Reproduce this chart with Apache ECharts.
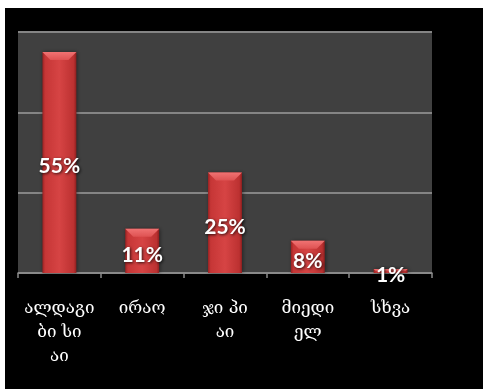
<!DOCTYPE html>
<html>
<head>
<meta charset="utf-8">
<script src="https://cdn.jsdelivr.net/npm/echarts@6/dist/echarts.min.js"></script>
<style>
  html, body { margin: 0; padding: 0; background: #ffffff; }
  #wrap { position: relative; width: 483px; height: 389px; background: #ffffff; overflow: hidden; }
  #chart { position: absolute; left: 5px; top: 8px; width: 478px; height: 381px; }
</style>
</head>
<body>
<div id="wrap"><div id="chart"></div></div>
<script>
// Market share by company, percent
const categories = ['ალდაგი\nბი სი\nაი', 'ირაო', 'ჯი პი\nაი', 'მიედი\nელ', 'სხვა'];
const shares = [55, 11, 25, 8, 1];
const axisMax = 60;
const axisStep = 20;

const chart = echarts.init(document.getElementById('chart'), null, { renderer: 'canvas' });

const bodyFill = new echarts.graphic.LinearGradient(0, 0, 1, 0, [
  { offset: 0, color: '#9a2222' },
  { offset: 0.08, color: '#c63636' },
  { offset: 0.5, color: '#d64444' },
  { offset: 0.92, color: '#bc3131' },
  { offset: 1, color: '#8e1f1f' }
]);
const bevelFill = new echarts.graphic.LinearGradient(0, 0, 0, 1, [
  { offset: 0, color: '#f07272' },
  { offset: 1, color: '#de5252' }
]);

function renderBar(params, api) {
  const idx = api.value(0);
  const v = api.value(1);
  const top = api.coord([idx, v]);
  const base = api.coord([idx, 0]);
  const w = api.size([1, 0])[0] * 0.41;
  const x = top[0] - w / 2;
  const h = base[1] - top[1];
  const bev = Math.min(8, h / 2);
  return {
    type: 'group',
    children: [
      {
        type: 'rect',
        shape: { x: x, y: top[1], width: w, height: h },
        style: { fill: bodyFill, shadowColor: 'rgba(0,0,0,0.45)', shadowBlur: 4, shadowOffsetX: 1 }
      },
      {
        type: 'polygon',
        shape: { points: [[x, top[1]], [x + w, top[1]], [x + w - bev, top[1] + bev], [x + bev, top[1] + bev]] },
        style: { fill: bevelFill }
      },
      {
        type: 'text',
        z2: 10,
        style: {
          text: v + '%',
          x: top[0],
          y: (top[1] + base[1]) / 2 + 4,
          align: 'center',
          verticalAlign: 'middle',
          fill: '#ffffff',
          font: 'bold 21px Lato, "Open Sans", sans-serif',
          textShadowColor: 'rgba(0,0,0,0.8)',
          textShadowBlur: 3,
          textShadowOffsetX: 1,
          textShadowOffsetY: 1
        }
      }
    ]
  };
}

chart.setOption({
  backgroundColor: '#000000',
  animation: false,
  grid: {
    left: 13, right: 51, top: 24, bottom: 116,
    show: true, backgroundColor: '#404040', borderWidth: 0
  },
  xAxis: {
    type: 'category',
    data: categories,
    boundaryGap: true,
    axisLine: { lineStyle: { color: '#8a8a8a', width: 1.5 } },
    axisTick: { show: true, length: 5, lineStyle: { color: '#8a8a8a', width: 1.5 } },
    axisLabel: {
      color: '#ffffff',
      fontFamily: '"DejaVu Serif", "DejaVu Sans", serif',
      fontSize: 17,
      lineHeight: 24,
      margin: 24,
      interval: 0
    }
  },
  yAxis: {
    type: 'value',
    min: 0,
    max: axisMax,
    interval: axisStep,
    axisLine: { show: false },
    axisTick: { show: false },
    axisLabel: { show: false },
    splitLine: { lineStyle: { color: '#858585', width: 2 } }
  },
  series: [{
    type: 'custom',
    renderItem: renderBar,
    data: shares.map((v, i) => [i, v]),
    encode: { x: 0, y: 1 }
  }]
});
</script>
</body>
</html>
